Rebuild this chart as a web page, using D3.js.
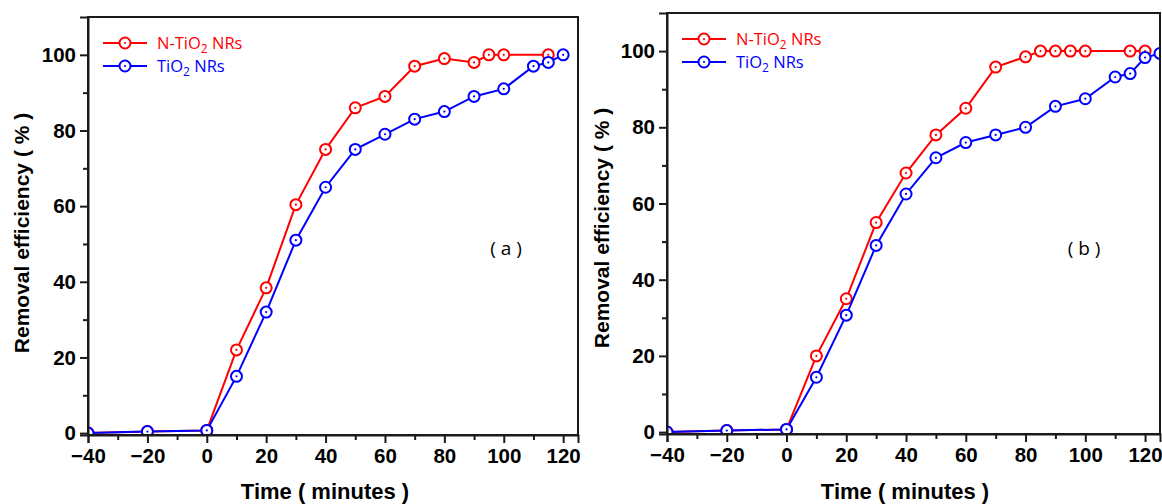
<!DOCTYPE html>
<html>
<head>
<meta charset="utf-8">
<script src="https://cdn.jsdelivr.net/npm/d3@7"></script>
<style>
  body { margin: 0; background: #fff; }
  svg { display: block; }
</style>
</head>
<body>
<div id="chart"></div>
<script>
// panel (a)
var timeRedA = [-40, -20, 0, 10, 20, 30, 40, 50, 60, 70, 80, 90, 95, 100, 115];
var valRedA = [0, 0.4, 0.7, 22, 38.4, 60.4, 75, 86, 89, 97, 99, 98, 100, 100, 100];
var timeBlueA = [-40, -20, 0, 10, 20, 30, 40, 50, 60, 70, 80, 90, 100, 110, 115, 120];
var valBlueA = [0, 0.4, 0.7, 15, 32, 51, 65, 75, 79, 83, 85, 89, 91, 97, 98, 100];

// panel (b)
var timeRedB = [-40, -20, 0, 10, 20, 30, 40, 50, 60, 70, 80, 85, 90, 95, 100, 115, 120];
var valRedB = [0, 0.4, 0.7, 20, 35, 55, 68, 78, 85, 95.8, 98.5, 100, 100, 100, 100, 100, 100];
var timeBlueB = [-40, -20, 0, 10, 20, 30, 40, 50, 60, 70, 80, 90, 100, 110, 115, 120, 125];
var valBlueB = [0, 0.4, 0.7, 14.4, 30.7, 49, 62.5, 72, 76, 78, 80, 85.5, 87.5, 93.2, 94.1, 98.3, 99.4];

var seriesNames = ["N-TiO", "TiO"];
var xTicks = [-40, -20, 0, 20, 40, 60, 80, 100, 120];
var yTicks = [0, 20, 40, 60, 80, 100];

var zip = function(xs, ys) {
  return xs.map(function(x, i) { return { t: x, v: ys[i] }; });
};

var panels = [
  {
    id: "a", left: 88, right: 578, top: 17, bottom: 435,
    red: zip(timeRedA, valRedA), blue: zip(timeBlueA, valBlueA),
    legX: 103, legY: 43, ytitleX: 22, ytitleY: 233, xtitleX: 325, tagX: 506
  },
  {
    id: "b", left: 667, right: 1160, top: 13, bottom: 434,
    red: zip(timeRedB, valRedB), blue: zip(timeBlueB, valBlueB),
    legX: 682, legY: 39, ytitleX: 602, ytitleY: 228, xtitleX: 905, tagX: 1084
  }
];

var svg = d3
  .select("#chart")
  .append("svg")
  .attr("width", 1162)
  .attr("height", 504);

var boldFont = "Liberation Sans, Arial, sans-serif";
var lightFont = "Open Sans, Noto Sans, sans-serif";

function marker(sel, color) {
  sel
    .append("circle")
    .attr("r", 5.5)
    .attr("fill", "#fff")
    .attr("stroke", color)
    .attr("stroke-width", 2);
  sel
    .append("circle")
    .attr("r", 1.1)
    .attr("fill", color);
}

panels.forEach(function(p) {
  var x = d3.scaleLinear().domain([-40, 125]).range([p.left, p.right]);
  var y = d3.scaleLinear().domain([-0.5, 110]).range([p.bottom, p.top]);

  var g = svg.append("g");

  svg
    .append("defs")
    .append("clipPath")
    .attr("id", "clip-" + p.id)
    .append("rect")
    .attr("x", p.left)
    .attr("y", p.top)
    .attr("width", p.right - p.left)
    .attr("height", p.bottom - p.top);

  var line = d3
    .line()
    .x(function(d) { return x(d.t); })
    .y(function(d) { return y(d.v); });

  var plot = g.append("g").attr("clip-path", "url(#clip-" + p.id + ")");

  [["red", "#ff0000"], ["blue", "#0000ff"]].forEach(function(s) {
    var data = p[s[0]];
    plot
      .append("path")
      .datum(data)
      .attr("d", line)
      .attr("fill", "none")
      .attr("stroke", s[1])
      .attr("stroke-width", 2);
    plot
      .selectAll(".m-" + s[0])
      .data(data)
      .enter()
      .append("g")
      .attr("class", "m-" + s[0])
      .attr("transform", function(d) {
        return "translate(" + x(d.t) + "," + y(d.v) + ")";
      })
      .call(marker, s[1]);
  });

  // frame
  g.append("rect")
    .attr("x", p.left)
    .attr("y", p.top)
    .attr("width", p.right - p.left)
    .attr("height", p.bottom - p.top)
    .attr("fill", "none")
    .attr("stroke", "#1a1a1a")
    .attr("stroke-width", 2);

  // x axis, major + minor ticks
  g.append("g")
    .attr("transform", "translate(0," + p.bottom + ")")
    .call(d3.axisBottom(x).tickValues(xTicks).tickSize(8).tickPadding(5).tickFormat(d3.format("d")));
  g.append("g")
    .attr("transform", "translate(0," + p.bottom + ")")
    .call(d3.axisBottom(x).tickValues(d3.range(-30, 125, 20)).tickSize(5).tickFormat(""))
    .select(".domain").remove();

  g.append("g")
    .attr("transform", "translate(" + p.left + ",0)")
    .call(d3.axisLeft(y).tickValues(yTicks).tickSize(8).tickPadding(4).tickFormat(d3.format("d")));
  g.append("g")
    .attr("transform", "translate(" + p.left + ",0)")
    .call(d3.axisLeft(y).tickValues(d3.range(10, 110, 20)).tickSize(5).tickFormat(""))
    .select(".domain").remove();

  g.selectAll(".domain").attr("stroke", "#1a1a1a").attr("stroke-width", 2);
  g.selectAll(".tick line").attr("stroke", "#1a1a1a").attr("stroke-width", 2);
  g.selectAll(".tick text")
    .attr("fill", "#000")
    .style("font-family", boldFont)
    .style("font-weight", "bold")
    .style("font-size", "20.5px");

  // axis titles
  g.append("text")
    .attr("transform", "translate(" + (p.ytitleX + 7) + "," + p.ytitleY + ") rotate(-90)")
    .attr("text-anchor", "middle")
    .style("font-family", boldFont)
    .style("font-weight", "bold")
    .style("font-size", "21px")
    .text("Removal efficiency ( % )");

  g.append("text")
    .attr("x", p.xtitleX)
    .attr("y", 499)
    .attr("text-anchor", "middle")
    .style("font-family", boldFont)
    .style("font-weight", "bold")
    .style("font-size", "22px")
    .text("Time ( minutes )");

  g.append("text")
    .attr("x", p.tagX)
    .attr("y", 255)
    .attr("text-anchor", "middle")
    .style("font-family", lightFont)
    .style("font-size", "19px")
    .text("( " + p.id + " )");

  // legend
  [["#ff0000", seriesNames[0]], ["#0000ff", seriesNames[1]]].forEach(function(s, i) {
    var ly = p.legY + i * 23;
    var lg = g.append("g");
    lg.append("line")
      .attr("x1", p.legX)
      .attr("x2", p.legX + 44)
      .attr("y1", ly)
      .attr("y2", ly)
      .attr("stroke", s[0])
      .attr("stroke-width", 2);
    lg.append("g")
      .attr("transform", "translate(" + (p.legX + 22) + "," + ly + ")")
      .call(marker, s[0]);
    var t = lg.append("text")
      .attr("x", p.legX + 54)
      .attr("y", ly + 6)
      .attr("fill", s[0])
      .style("font-family", lightFont)
      .style("font-size", "16.5px");
    t.append("tspan").text(s[1]);
    t.append("tspan").attr("dy", 4).style("font-size", "12px").text("2");
    t.append("tspan").attr("dy", -4).text(" NRs");
  });
});
</script>
</body>
</html>
